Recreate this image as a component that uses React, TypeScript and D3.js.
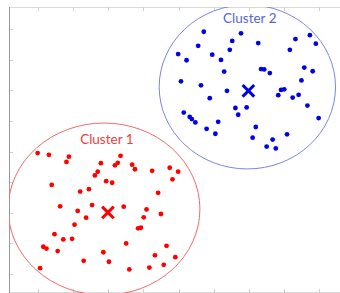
import React from "react";
import * as d3 from "d3";

const W = 340;
const H = 293;

// Tick values (data units)
const xTicks = [1, 2, 3, 4, 5, 6, 7, 8, 9];
const yTicks = [1, 2, 3, 4, 5, 6, 7, 8, 9];

// Cluster 1 points (red)
const cluster1X = [0.99, 1.31, 1.88, 1.81, 3.35, 3.27, 3.19, 2.79, 2.7, 2.62, 3.68, 3.76, 4.25, 4.75, 1.39, 2.94, 3.11, 2.2, 2.45, 4.42, 1.63, 2.54, 2.13, 2.37, 3.44, 4.09, 4.01, 4.5, 2.04, 3.85, 3.93, 1.47, 1.72, 1.97, 1.15, 1.24, 1.56, 3.51, 2.86, 4.66, 4.33, 2.3, 3.02, 1.06, 3.6, 4.17, 4.58, 4.99, 4.83, 4.91];
const cluster1Y = [4.95, 4.89, 4.83, 4.66, 4.86, 4.63, 4.55, 4.62, 4.34, 4.22, 4.57, 4.42, 4.37, 4.47, 3.91, 4.03, 3.98, 3.69, 3.77, 3.65, 3.21, 3.25, 3.06, 2.84, 3.2, 3.11, 2.85, 2.96, 2.61, 2.49, 2.51, 2.3, 2.13, 2.15, 1.89, 1.83, 1.75, 2.0, 1.71, 1.92, 1.61, 1.43, 1.4, 1.19, 1.15, 1.21, 1.3, 4.34, 4.09, 1.55];

// Cluster 2 points (blue)
const cluster2X = [5.72, 6.78, 6.53, 5.56, 7.27, 8.33, 8.74, 8.91, 8.17, 4.99, 5.23, 5.96, 6.46, 6.21, 6.3, 7.35, 7.44, 7.6, 8.58, 8.82, 5.07, 5.64, 8.5, 6.38, 7.92, 8.01, 7.84, 8.42, 8.25, 5.89, 6.94, 6.62, 6.7, 8.67, 8.99, 5.15, 5.32, 5.38, 5.48, 6.13, 5.8, 6.05, 7.2, 7.11, 7.68, 8.09, 7.51, 7.77];
const cluster2Y = [8.91, 8.86, 8.61, 8.45, 8.54, 8.67, 8.8, 8.52, 8.32, 8.18, 7.98, 8.16, 8.32, 7.99, 7.61, 7.69, 7.68, 7.56, 7.74, 7.62, 7.29, 7.16, 7.32, 6.98, 7.01, 7.03, 6.84, 6.85, 6.76, 6.74, 6.44, 6.42, 6.2, 6.5, 6.09, 6.27, 6.13, 6.06, 5.95, 5.97, 5.74, 5.58, 5.8, 5.45, 5.39, 5.56, 5.16, 5.1];

// Centroids, boundaries and labels
const clusterNames = ["Cluster 1", "Cluster 2"];
const centroidX = [2.99, 6.99];
const centroidY = [3.01, 6.98];
const ringX = [2.88, 6.96];
const ringY = [3.12, 7.11];
const ringRX = [2.73, 2.51];
const ringRY = [2.81, 2.68];
const labelX = [2.96, 7.03];
const labelY = [5.25, 9.21];

const dotColors = ["#ff0000", "#0000e6"];
const ringColors = ["#f26a6a", "#7b86e0"];
const labelColors = ["#f23c3c", "#5566d6"];
const crossColors = ["#ff0000", "#0000e6"];

export default function App() {
  const left = 9;
  const top = 7;
  const bottom = 292;

  const x = d3.scaleLinear().domain([0, 9]).range([2.875, 319]);
  const y = d3.scaleLinear().domain([0, 9]).range([304.625, 29]);

  const series = [
    cluster1X.map((v, i) => [v, cluster1Y[i]]),
    cluster2X.map((v, i) => [v, cluster2Y[i]]),
  ];

  const cs = 5.8;

  return (
    <div style={{ position: "fixed", left: 0, top: 0, width: W, height: H, background: "#fff" }}>
      <svg width={W} height={H} style={{ display: "block" }}>
        <defs>
          <clipPath id="plot">
            <rect x={left} y={top} width={W - left} height={H - top} />
          </clipPath>
        </defs>
        {/* frame lines */}
        <line x1={left} x2={W} y1={top + 0.5} y2={top + 0.5} stroke="#d9d9d9" strokeWidth={1} />
        <line x1={left} x2={W} y1={bottom + 0.5} y2={bottom + 0.5} stroke="#d9d9d9" strokeWidth={1} />
        {xTicks.map((t) => (
          <g key={"xt" + t}>
            <line x1={Math.round(x(t)) + 0.5} x2={Math.round(x(t)) + 0.5} y1={top} y2={top + 4} stroke="#d0d0d0" />
            <line x1={Math.round(x(t)) + 0.5} x2={Math.round(x(t)) + 0.5} y1={bottom - 3} y2={bottom + 1} stroke="#d0d0d0" />
          </g>
        ))}
        {yTicks.map((t) => (
          <line key={"yt" + t} x1={left} x2={left + 4} y1={Math.round(y(t)) + 0.5} y2={Math.round(y(t)) + 0.5} stroke="#d0d0d0" />
        ))}
        <line x1={left + 0.5} x2={left + 0.5} y1={top} y2={H} stroke="#9a9a9a" strokeWidth={1} />

        <g clipPath="url(#plot)">
          {clusterNames.map((name, k) => (
            <ellipse
              key={"ring" + k}
              cx={x(ringX[k])}
              cy={y(ringY[k])}
              rx={x(ringRX[k]) - x(0)}
              ry={y(0) - y(ringRY[k])}
              fill="none"
              stroke={ringColors[k]}
              strokeWidth={1}
            />
          ))}
          {series.map((pts, k) =>
            pts.map((p, i) => (
              <circle key={"p" + k + "-" + i} cx={x(p[0])} cy={y(p[1])} r={2.4} fill={dotColors[k]} />
            ))
          )}
          {clusterNames.map((name, k) => {
            const cx = x(centroidX[k]);
            const cy = y(centroidY[k]);
            return (
              <g key={"c" + k} stroke={crossColors[k]} strokeWidth={3} strokeLinecap="butt">
                <line x1={cx - cs} y1={cy - cs} x2={cx + cs} y2={cy + cs} />
                <line x1={cx - cs} y1={cy + cs} x2={cx + cs} y2={cy - cs} />
              </g>
            );
          })}
          {clusterNames.map((name, k) => (
            <text
              key={"l" + k}
              x={x(labelX[k])}
              y={y(labelY[k])}
              textAnchor="middle"
              fill={labelColors[k]}
              style={{ fontFamily: "Lato, 'Open Sans', sans-serif", fontSize: 13.5 }}
            >
              {name}
            </text>
          ))}
        </g>
      </svg>
    </div>
  );
}
